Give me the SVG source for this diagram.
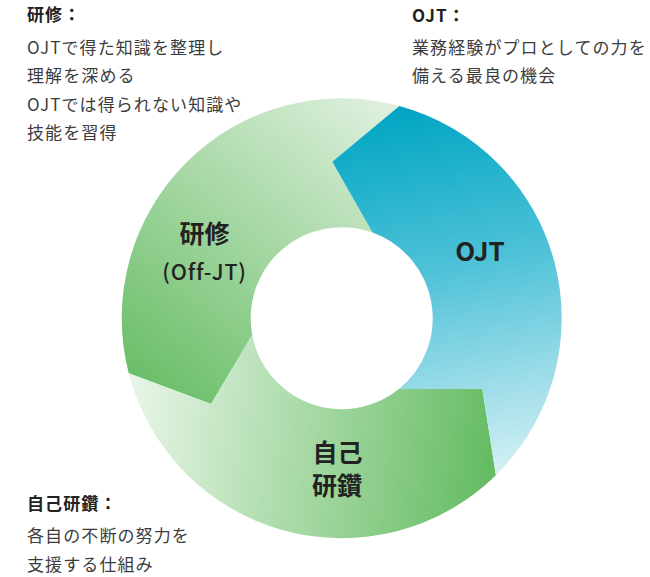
<svg xmlns="http://www.w3.org/2000/svg" width="650" height="577" viewBox="0 0 650 577">
<style>
.desc{font-family:"Noto Sans CJK JP","Noto Sans CJK SC",sans-serif;font-size:17px;letter-spacing:1.1px;fill:#3c3c3c}
.desc .t{font-weight:700;fill:#222}
.big{font-family:"Noto Sans CJK JP","Noto Sans CJK SC",sans-serif;font-weight:700;fill:#222;text-anchor:middle}
.sub{font-weight:500}
</style>
<defs>
<linearGradient id="gOJT" gradientUnits="userSpaceOnUse" x1="400" y1="106" x2="470" y2="475">
<stop offset="0" stop-color="#00a5c3"/>
<stop offset="0.45" stop-color="#4fc2d8"/>
<stop offset="1" stop-color="#d2eff4"/>
</linearGradient>
<linearGradient id="gKen" gradientUnits="userSpaceOnUse" x1="395" y1="110" x2="160" y2="400">
<stop offset="0" stop-color="#dff0de"/>
<stop offset="1" stop-color="#6abe68"/>
</linearGradient>
<linearGradient id="gJiko" gradientUnits="userSpaceOnUse" x1="135" y1="420" x2="495" y2="470">
<stop offset="0" stop-color="#e5f4e4"/>
<stop offset="1" stop-color="#63bb61"/>
</linearGradient>
</defs>

<g id="connectors"></g>

<g id="node-kenshu">
<path d="M399.38,105.9 A220,220 0 0 0 128.72,373.29 L211,404 L252.25,334.94 A91,91 0 0 1 372.52,232.58 L332.3,161.7 Z" fill="url(#gKen)"/>
<text class="big" x="204.5" y="243" font-size="25">研修</text>
<text class="big sub" x="204.5" y="279.5" font-size="21.5" letter-spacing="0.8">(Off-JT)</text>
</g>

<g id="node-jiko">
<path d="M128.72,373.29 A220,220 0 0 0 495.9,475.13 L482.3,389 L398.85,389.02 A91,91 0 0 1 252.25,334.94 L211,404 Z" fill="url(#gJiko)"/>
<text class="big" x="337.5" y="462" font-size="25">自己</text>
<text class="big" x="337" y="495" font-size="25">研鑽</text>
</g>

<g id="node-ojt">
<path d="M495.9,475.13 A220,220 0 0 0 399.38,105.9 L332.3,161.7 L372.52,232.58 A91,91 0 0 1 398.85,389.02 L482.3,389 Z" fill="url(#gOJT)"/>
<text class="big" x="480" y="260.5" font-size="26">OJT</text>
</g>

<g id="desc-kenshu" class="desc">
<text class="t" x="27" y="21">研修：</text>
<text x="27" y="53.5">OJTで得た知識を整理し</text>
<text x="27" y="82">理解を深める</text>
<text x="27" y="110.5">OJTでは得られない知識や</text>
<text x="27" y="139">技能を習得</text>
</g>

<g id="desc-ojt" class="desc">
<text class="t" x="412" y="22">OJT：</text>
<text x="412" y="53.5">業務経験がプロとしての力を</text>
<text x="412" y="82">備える最良の機会</text>
</g>

<g id="desc-jiko" class="desc">
<text class="t" x="27" y="510">自己研鑽：</text>
<text x="27" y="541.5">各自の不断の努力を</text>
<text x="27" y="570.5">支援する仕組み</text>
</g>
</svg>
